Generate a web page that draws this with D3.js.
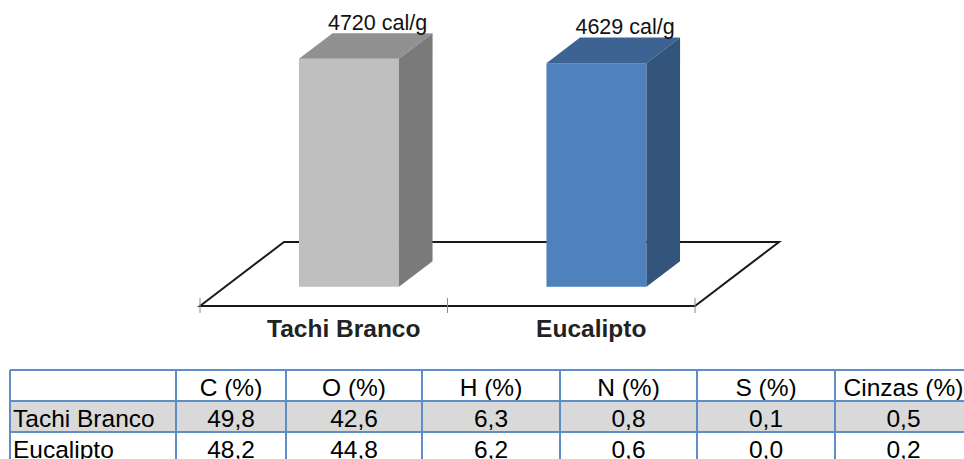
<!DOCTYPE html>
<html>
<head>
<meta charset="utf-8">
<script src="https://cdn.jsdelivr.net/npm/d3@7"></script>
<style>
  html, body { margin: 0; padding: 0; background: #fff; }
  svg { display: block; font-family: "Liberation Sans", Arial, sans-serif; }
</style>
</head>
<body>
<svg id="chart" width="964" height="459"></svg>
<script>
// Heating value per wood species
const categories = ["Tachi Branco", "Eucalipto"];
const heatingValues = [4720, 4629];
const valueUnit = "cal/g";

// Elemental composition table
const tableColumns = ["C (%)", "O (%)", "H (%)", "N (%)", "S (%)", "Cinzas (%)"];
const tachiBrancoComposition = [49.8, 42.6, 6.3, 0.8, 0.1, 0.5];
const eucaliptoComposition = [48.2, 44.8, 6.2, 0.6, 0.0, 0.2];

const svg = d3.select("#chart");

// --- 3D bar chart -------------------------------------------------------
const floorFront = { x0: 200, x1: 695, y: 306 };
const depth = { dx: 84, dy: -64 };          // floor depth vector
const zFront = 0.3, zBack = 0.7;             // bar position inside floor depth

const x = d3.scaleBand().domain(categories).range([floorFront.x0, floorFront.x1]).padding(0);
const barW = x.bandwidth() * 0.404;
const h = d3.scaleLinear().domain([0, 5000]).range([0, 241.5]);

const palette = [
  { front: "#bfbfbf", top: "#919191", side: "#7a7a7a" },
  { front: "#4f81bd", top: "#3c6391", side: "#33547b" }
];

// floor outline
const fl = floorFront;
const floorPath = d3.path();
floorPath.moveTo(fl.x0, fl.y);
floorPath.lineTo(fl.x0 + depth.dx, fl.y + depth.dy);
floorPath.lineTo(fl.x1 + depth.dx, fl.y + depth.dy);
floorPath.lineTo(fl.x1, fl.y);
floorPath.closePath();
svg.append("path").attr("d", floorPath.toString())
  .attr("fill", "none").attr("stroke", "#1a1a1a").attr("stroke-width", 2)
  .attr("stroke-linejoin", "miter");

// category ticks on the front edge
const tickXs = [fl.x0, ...categories.map(c => x(c) + x.bandwidth())];
svg.selectAll("line.tick").data(tickXs).join("line")
  .attr("class", "tick")
  .attr("x1", d => d).attr("x2", d => d)
  .attr("y1", fl.y - 8).attr("y2", fl.y + 7)
  .attr("stroke", "#8a8a8a").attr("stroke-width", 1);

const bars = categories.map((c, i) => {
  const cx = x(c) + x.bandwidth() / 2;
  const left = cx - barW / 2 + depth.dx * zFront;
  const bottom = fl.y + depth.dy * zFront;
  const height = h(heatingValues[i]);
  const ddx = depth.dx * (zBack - zFront), ddy = depth.dy * (zBack - zFront);
  return { c, i, left, right: left + barW, bottom, top: bottom - height, ddx, ddy };
});

const g = svg.selectAll("g.bar").data(bars).join("g").attr("class", "bar");
g.append("rect")
  .attr("x", d => d.left).attr("y", d => d.top)
  .attr("width", barW).attr("height", d => d.bottom - d.top)
  .attr("fill", d => palette[d.i].front);
g.append("polygon")
  .attr("points", d => [[d.left, d.top], [d.right, d.top], [d.right + d.ddx, d.top + d.ddy], [d.left + d.ddx, d.top + d.ddy]].join(" "))
  .attr("fill", d => palette[d.i].top);
g.append("polygon")
  .attr("points", d => [[d.right, d.top], [d.right + d.ddx, d.top + d.ddy], [d.right + d.ddx, d.bottom + d.ddy], [d.right, d.bottom]].join(" "))
  .attr("fill", d => palette[d.i].side);

// value labels above each bar
g.append("text")
  .attr("x", d => (d.left + d.right) / 2 + d.ddx - 5)
  .attr("y", d => d.top + d.ddy - 3.5)
  .attr("text-anchor", "middle")
  .attr("font-size", 21.5).attr("fill", "#111")
  .text(d => `${heatingValues[d.i]} ${valueUnit}`);

// category labels
svg.selectAll("text.cat").data(categories).join("text")
  .attr("class", "cat")
  .attr("x", d => x(d) + x.bandwidth() / 2 + 20)
  .attr("y", 337)
  .attr("text-anchor", "middle")
  .attr("font-size", 24.5).attr("font-weight", "bold").attr("fill", "#222")
  .text(d => d);

// --- composition table --------------------------------------------------
const pt = d3.formatLocale({ decimal: ",", thousands: ".", grouping: [3], currency: ["", ""] }).format(".1f");
const colEdges = [10, 176, 286, 422, 560, 697, 835, 972];
const rowEdges = [370, 401, 432, 463];
const rows = [
  { name: "", cells: tableColumns, fill: "#ffffff" },
  { name: categories[0], cells: tachiBrancoComposition.map(pt), fill: "#d9d9d9" },
  { name: categories[1], cells: eucaliptoComposition.map(pt), fill: "#ffffff" }
];

const tbl = svg.append("g");
rows.forEach((r, ri) => {
  tbl.append("rect")
    .attr("x", colEdges[0]).attr("y", rowEdges[ri])
    .attr("width", colEdges[colEdges.length - 1] - colEdges[0])
    .attr("height", rowEdges[ri + 1] - rowEdges[ri])
    .attr("fill", r.fill);
  const baseline = rowEdges[ri + 1] - 5;
  tbl.append("text")
    .attr("x", colEdges[0] + 3).attr("y", baseline)
    .attr("font-size", 24.5).attr("fill", "#000")
    .text(r.name);
  tbl.selectAll(null).data(r.cells).join("text")
    .attr("x", (d, k) => (colEdges[k + 1] + colEdges[k + 2]) / 2)
    .attr("y", baseline)
    .attr("text-anchor", "middle")
    .attr("font-size", 24.5).attr("fill", "#000")
    .text(d => d);
});
// grid lines
tbl.selectAll("line.h").data(rowEdges).join("line")
  .attr("x1", colEdges[0]).attr("x2", colEdges[colEdges.length - 1])
  .attr("y1", d => d).attr("y2", d => d)
  .attr("stroke", "#5f8dc8").attr("stroke-width", 2);
tbl.selectAll("line.v").data(colEdges).join("line")
  .attr("x1", d => d).attr("x2", d => d)
  .attr("y1", rowEdges[0]).attr("y2", rowEdges[rowEdges.length - 1])
  .attr("stroke", "#5f8dc8").attr("stroke-width", 2);
</script>
</body>
</html>
